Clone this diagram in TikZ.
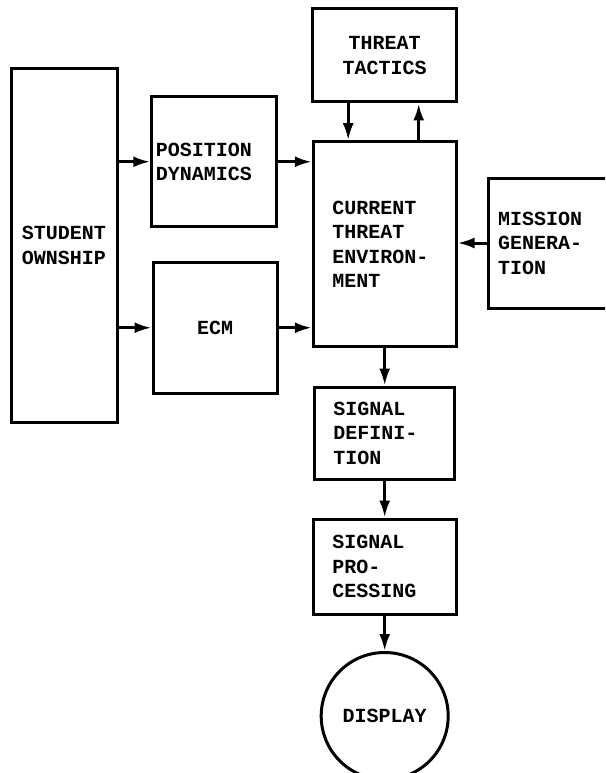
\documentclass[tikz,border=0pt]{standalone}
\usepackage{fontspec}
\setmonofont{Liberation Mono}
\usetikzlibrary{positioning, arrows.meta, shapes}

\begin{document}
\begin{tikzpicture}[x=1pt, y=-1pt, every node/.style={font=\fontsize{20}{24.5}\selectfont\ttfamily\bfseries},
    box/.style={rectangle, draw, line width=3pt, inner sep=0pt}]
    \useasboundingbox (0,0) rectangle (605,773);
    \clip (0,0) rectangle (605,773);

    \node[box, align=center, minimum width=106, minimum height=353] (owner) at (64,245.5) {STUDENT\\OWNSHIP};
    \node[box, align=left, text width=116.5, inner xsep=4, minimum height=129.5] (posdyn) at (214,161.75) {POSITION\\DYNAMICS};
    \node[box, align=center, minimum width=124, minimum height=130.5] (ecm) at (215,327.75) {ECM};

    \node[box, align=left, text width=104.7, inner xsep=19, minimum height=205] (current) at (384.7,244.2) {CURRENT\\THREAT\\ENVIRON-\\MENT};
    \node[box, align=center, minimum width=143.5, minimum height=93.3, above=36.7pt of current] (tactics) {THREAT\\TACTICS};
    \node[box, align=left, text width=112, inner xsep=10, minimum height=130] (mission) at (554,243) {MISSION\\GENERA-\\TION};

    \node[box, align=left, text width=102.5, inner xsep=19, minimum height=92, below=37.3pt of current] (sigdef) {SIGNAL\\DEFINI-\\TION};
    \node[box, align=left, text width=104.6, inner xsep=19, minimum height=95, below=37pt of sigdef] (sigproc) {SIGNAL\\PRO-\\CESSING};
    \node[circle, draw, line width=3pt, inner sep=0pt, minimum size=127, below=35.5pt of sigproc] (display) {DISPLAY};

    \path[-{Latex[length=17pt,width=11pt]}, line width=3pt]
    (owner.east |- posdyn.west) edge (posdyn.west)
    (owner.east |- ecm.west) edge (ecm.west)
    (posdyn.east) edge (posdyn.east -| current.west)
    (ecm.east) edge (ecm.east -| current.west)
    (mission.west) edge (mission.west -| current.east)
    ([xshift=-36.5pt]tactics.south) edge ([xshift=-36.5pt]tactics.south |- current.north)
    ([xshift=34pt]current.north) edge ([xshift=34pt]current.north |- tactics.south)
    (current) edge (sigdef)
    (sigdef) edge (sigproc)
    (sigproc) edge (display);
\end{tikzpicture}
\end{document}
